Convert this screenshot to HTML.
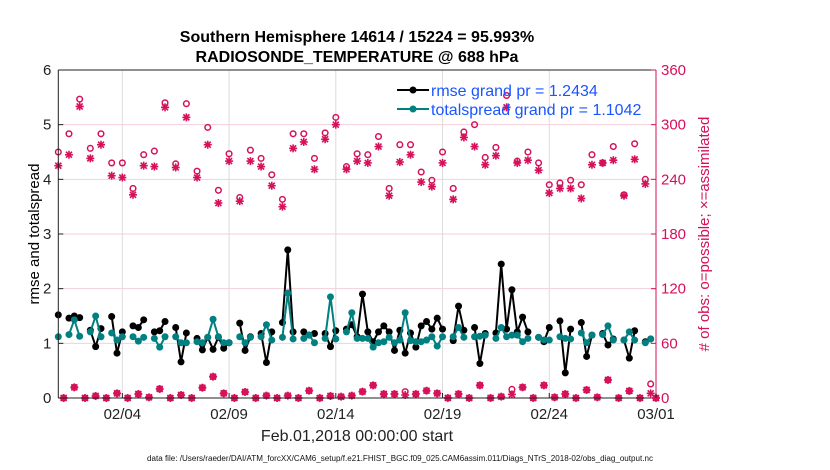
<!DOCTYPE html>
<html><head><meta charset="utf-8"><style>
html,body{margin:0;padding:0;background:#fff;}
svg{display:block;font-family:"Liberation Sans",sans-serif;}
</style></head><body>
<svg id="chart" width="830" height="470" viewBox="0 0 830 470">
<text x="357" y="42" text-anchor="middle" font-size="16" font-weight="bold">Southern Hemisphere 14614 / 15224 = 95.993%</text>
<text x="357" y="62" text-anchor="middle" font-size="16" font-weight="bold">RADIOSONDE_TEMPERATURE @ 688 hPa</text>
<g id="grid"></g>
<g id="series"></g>
<g id="axes"></g>
<text transform="translate(39,234) rotate(-90)" text-anchor="middle" font-size="15">rmse and totalspread</text>
<text transform="translate(709,234) rotate(-90)" text-anchor="middle" font-size="15" fill="#d6105a"># of obs: o=possible; ×=assimilated</text>
<text x="357" y="441" text-anchor="middle" font-size="16" fill="#222">Feb.01,2018 00:00:00 start</text>
<text x="147" y="461" font-size="8" textLength="506" lengthAdjust="spacingAndGlyphs" fill="#111">data file: /Users/raeder/DAI/ATM_forcXX/CAM6_setup/f.e21.FHIST_BGC.f09_025.CAM6assim.011/Diags_NTrS_2018-02/obs_diag_output.nc</text>
<g id="legend">
<line x1="397" y1="90" x2="429" y2="90" stroke="#000" stroke-width="2"/>
<circle cx="413" cy="90" r="3.5" fill="#000"/>
<text x="431" y="96" font-size="16" fill="#1a55ff">rmse grand pr = 1.2434</text>
<line x1="397" y1="109" x2="429" y2="109" stroke="#008080" stroke-width="2"/>
<circle cx="413" cy="109" r="3.5" fill="#008080"/>
<text x="431" y="115" font-size="16" fill="#1a55ff">totalspread grand pr = 1.1042</text>
</g>
</svg>
<script>
// quarter-day time index k -> day k/4 ; null = missing
const rmse = [1.52,null,1.46,1.50,1.47,null,1.24,0.94,1.27,null,1.49,0.82,1.21,null,1.32,1.29,1.43,null,1.21,1.23,1.40,null,1.29,0.66,1.19,null,1.09,0.88,1.11,0.89,1.11,0.91,1.01,null,1.37,0.87,1.12,null,1.18,0.65,1.21,null,1.38,2.71,1.21,null,1.21,1.15,1.18,null,1.18,0.94,1.23,null,1.26,1.34,1.12,1.90,1.21,1.03,1.21,1.32,1.21,0.87,1.24,0.82,1.19,0.93,1.32,1.40,1.26,1.46,1.26,null,1.05,1.68,1.24,null,1.29,0.63,1.18,null,1.19,2.45,1.26,1.98,1.21,1.48,1.21,null,1.11,1.03,1.29,null,1.41,0.46,1.26,null,1.38,0.76,1.15,null,1.18,0.97,1.08,null,1.06,0.73,1.23,null,1.03,1.08,null];
const spread = [1.12,null,1.16,1.43,1.13,null,1.21,1.50,1.12,null,1.19,1.06,1.12,null,1.12,1.04,1.11,null,1.09,0.93,1.12,null,1.12,1.01,1.01,null,1.03,1.01,1.11,1.44,1.12,1.01,1.01,null,1.12,1.01,1.11,null,1.12,1.34,1.06,null,1.11,1.92,1.08,null,1.09,1.15,1.01,null,1.09,1.85,1.08,null,1.21,1.56,1.09,1.09,1.09,0.93,1.01,1.03,1.11,1.01,1.06,1.56,1.05,1.03,1.03,1.06,1.12,0.95,1.12,null,1.12,1.29,1.11,null,1.12,1.13,1.15,null,1.09,1.29,1.12,1.15,1.15,1.03,1.09,null,1.11,1.06,1.06,null,1.12,1.09,1.08,null,1.19,1.01,1.15,null,1.16,1.32,1.06,null,1.06,1.21,1.06,null,1.01,1.08,null];
// 00Z/12Z counts (even k) and 06Z/18Z counts (odd k)
const possibleMain = [270,290,328,274,290,258,258,230,267,271,324,257,323,249,297,228,268,220,272,263,245,218,290,290,263,291,308,254,268,267,287,230,278,278,248,239,270,230,292,300,264,275,332,260,270,258,234,236,239,234,267,258,276,223,279,240,0];
const assimMain = [255,267,320,263,278,244,242,223,255,254,319,253,308,242,278,214,260,216,260,254,233,210,274,281,251,284,300,251,260,258,276,222,259,267,237,232,258,218,286,276,256,266,319,258,261,250,225,230,230,219,256,258,261,222,262,235,0];
const possibleOff = [0,11.7,0,2.2,0,5.1,0,4.4,0.7,9.9,0,3.3,0,11.3,23.4,5.1,0,6.6,0,2.6,0,2.6,0,8,0,2.2,1.5,2.6,7,13.9,4.4,4.4,7,4.4,8,5.1,0,4.4,0,13.9,0,1.5,9.5,11.7,0,13.9,0.7,4.4,0,8.8,0.7,19.8,0,7.7,0,15.4];
const assimOff = [0,11.7,0,2.2,0,5.1,0,4.4,0.7,9.9,0,3.3,0,11.3,23.4,5.1,0,6.6,0,2.6,0,2.6,0,8,0,2.2,1.5,2.6,7,13.9,4.4,4.4,3.3,4.4,8,5.1,0,4.4,0,13.9,0,1.5,4,11.7,0,13.9,0.7,4.4,0,8.8,0.7,19.8,0,7.7,0,5.1];
const xTickDays = [3,8,13,18,23,28];
const xTickLabels = ["02/04","02/09","02/14","02/19","02/24","03/01"];
const yTicks = [0,1,2,3,4,5,6];
const y2Ticks = [0,60,120,180,240,300,360];

const NS="http://www.w3.org/2000/svg";
const L=58.3,R=656,T=70,B=398;
const x=d=>L+d*(R-L)/28;
const y=v=>B-v*(B-T)/6;
const y2=v=>B-v*(B-T)/360;
const PINK="#d6105a",TEAL="#008080";
function mk(tag,attrs,parent){const e=document.createElementNS(NS,tag);for(const k in attrs)e.setAttribute(k,attrs[k]);parent.appendChild(e);return e;}
const grid=document.getElementById('grid'),ser=document.getElementById('series'),ax=document.getElementById('axes');
mk('rect',{x:L,y:T,width:R-L,height:B-T,fill:'#fff'},grid);
xTickDays.forEach(d=>{mk('line',{x1:x(d),y1:T,x2:x(d),y2:B,stroke:'#dcdcdc','stroke-width':1},grid);});
y2Ticks.forEach(v=>{if(v>0&&v<360)mk('line',{x1:L,y1:y2(v),x2:R,y2:y2(v),stroke:'#f3cfdc','stroke-width':1},grid);});

function star(cx,cy,parent,name){
  const g=mk('g',{stroke:PINK,'stroke-width':1.6},parent);
  
  
  mk('line',{x1:cx-4,y1:cy,x2:cx+4,y2:cy},g);mk('line',{x1:cx,y1:cy-4,x2:cx,y2:cy+4},g);
  mk('line',{x1:cx-3,y1:cy-3,x2:cx+3,y2:cy+3},g);mk('line',{x1:cx-3,y1:cy+3,x2:cx+3,y2:cy-3},g);
}
function obs(k,pv,av){
  const c=mk('circle',{cx:x(k/4),cy:y2(pv),r:2.8,fill:'none',stroke:PINK,'stroke-width':1.5},ser);
  
  
  star(x(k/4),y2(av),ser,'obs-assimilated');
}
possibleMain.forEach((v,i)=>obs(i*2,v,assimMain[i]));
possibleOff.forEach((v,i)=>obs(i*2+1,v,assimOff[i]));

function line(vals,color,name){
  let d='',pen=false;
  vals.forEach((v,k)=>{if(v===null){pen=false;return;}d+=(pen?'L':'M')+x(k/4).toFixed(1)+' '+y(v).toFixed(1)+' ';pen=true;});
  const p=mk('path',{d:d,fill:'none',stroke:color,'stroke-width':2,'stroke-linejoin':'round'},ser);
  
  
  vals.forEach((v,k)=>{if(v===null)return;
    const c=mk('circle',{cx:x(k/4),cy:y(v),r:3.5,fill:color},ser);
    
    
  });
}
line(rmse,'#000','rmse');
line(spread,TEAL,'totalspread');

mk('line',{x1:L,y1:T,x2:R,y2:T,stroke:'#222','stroke-width':1},ax);
mk('line',{x1:L,y1:B,x2:R,y2:B,stroke:'#222','stroke-width':1},ax);
mk('line',{x1:L,y1:T,x2:L,y2:B,stroke:'#222','stroke-width':1},ax);
mk('line',{x1:R,y1:T,x2:R,y2:B,stroke:PINK,'stroke-width':1},ax);
yTicks.forEach(v=>{
  mk('line',{x1:L,y1:y(v),x2:L+5,y2:y(v),stroke:'#222'},ax);
  const t=mk('text',{x:L-7,y:y(v)+5,'text-anchor':'end','font-size':15,fill:'#222'},ax);t.textContent=v;
  
  
});
y2Ticks.forEach(v=>{
  mk('line',{x1:R-5,y1:y2(v),x2:R,y2:y2(v),stroke:PINK},ax);
  const t=mk('text',{x:R+5,y:y2(v)+5,'font-size':15,fill:PINK},ax);t.textContent=v;
  
  
});
xTickDays.forEach((d,i)=>{
  mk('line',{x1:x(d),y1:B,x2:x(d),y2:B-5,stroke:'#222'},ax);
  const t=mk('text',{x:x(d),y:419,'text-anchor':'middle','font-size':15,fill:'#222'},ax);t.textContent=xTickLabels[i];
  
  
});
</script>
</body></html>
